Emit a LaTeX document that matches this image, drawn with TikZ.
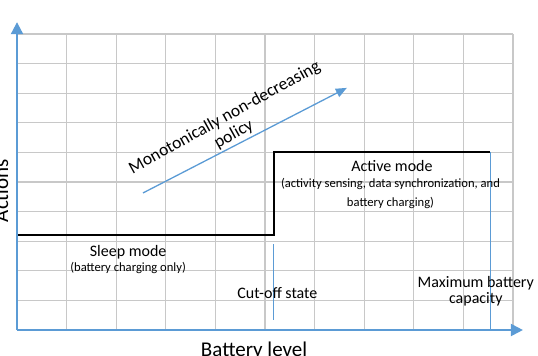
\documentclass[tikz,border=0pt]{standalone}
\usepackage{fontspec}
\setmainfont{Carlito}
\usepackage{tikz}
\usetikzlibrary{arrows.meta,positioning}
\definecolor{cAxis}{RGB}{91,155,213}
\definecolor{cGrid}{RGB}{200,200,200}
\definecolor{cStep}{RGB}{0,0,0}

\begin{document}
\begin{tikzpicture}[x=49.6pt,y=29.6pt,
  axis/.style={cAxis,line width=2pt,-{Triangle[length=12pt,width=12pt]}},
  marker/.style={cAxis,line width=1.1pt},
  gridline/.style={cGrid,line width=1.3pt},
  lbl/.style={font=\fontsize{16}{18}\selectfont,inner sep=0pt},
  note/.style={font=\fontsize{12.6}{14}\selectfont,inner sep=0pt},
  big/.style={font=\fontsize{21}{24}\selectfont,inner sep=0pt}]
  \useasboundingbox (-0.343,-0.845) rectangle (10.504,11.149);
  \foreach \i in {1,...,10} {
    \draw[gridline] (\i,0) -- (\i,10);
    \draw[gridline] (0,\i) -- (10,\i);
  }
  % corner points of the policy step
  \coordinate (O) at (0,0);
  \coordinate (ytip) at (0,10.4);
  \coordinate (xtip) at (10.2,0);
  \coordinate (sleep) at (0,3.2);
  \coordinate (cutlo) at (5.18,3.2);
  \coordinate (cuthi) at (5.18,6);
  \coordinate (full) at (9.54,6);
  \coordinate (fullbot) at (9.54,0);
  \coordinate (cuta) at (5.18,2.9);
  \coordinate (cutb) at (5.18,0.34);
  \coordinate (trs) at (2.54,4.63);
  \coordinate (tre) at (6.65,8.18);
  \draw[cStep,line width=2pt] (sleep) -- (cutlo) -- (cuthi) -- (full);
  \draw[marker] (full) -- (fullbot);
  \draw[marker] (cuta) -- (cutb);
  \draw[axis] (O) -- (ytip);
  \draw[axis] (O) -- (xtip);
  \draw[cAxis,line width=1.3pt,-{Triangle[length=11pt,width=9pt]}] (trs) -- (tre);
  \node[font=\fontsize{17.5}{19}\selectfont,inner sep=0pt,align=center,rotate=29] (trend) at (4.28,6.89) {Monotonically non-decreasing\\policy};
  \node[lbl,anchor=base] (active) at (7.56,5.34) {Active mode};
  \node[note,anchor=base] (activea) at (7.53,4.82) {(activity sensing, data synchronization, and};
  \node[note,anchor=base] (activeb) at (7.53,4.17) {battery charging)};
  \node[lbl,anchor=base] (sleepl) at (2.24,2.48) {Sleep mode};
  \node[note,anchor=base] (sleepn) at (2.24,1.99) {(battery charging only)};
  \node[lbl,anchor=base] (cutl) at (5.25,1.08) {Cut-off state};
  \node[lbl,anchor=base] (maxa) at (9.25,1.45) {Maximum battery};
  \node[lbl,anchor=base] (maxb) at (9.25,0.88) {capacity};
  \node[big,anchor=base] (xlabel) at (4.78,-0.895) {Battery level};
  \node[big,anchor=base,rotate=90] (ylabel) at (-0.18,4.71) {Actions};
\end{tikzpicture}
\end{document}
